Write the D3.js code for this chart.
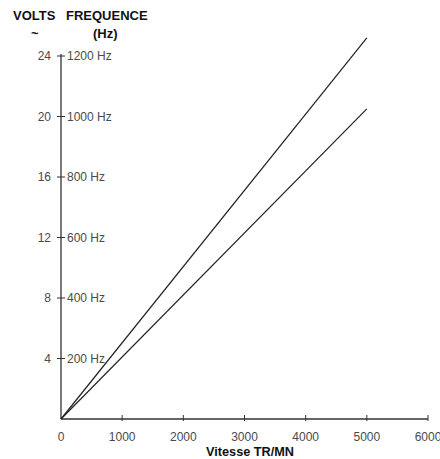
<!DOCTYPE html>
<html><head><meta charset="utf-8">
<script src="https://cdn.jsdelivr.net/npm/d3@7"></script>
<style>body{margin:0;background:#fff}text{font-family:"Liberation Sans",Arial,sans-serif}</style>
</head><body><svg id="c" width="440" height="459"></svg>
<script>
const xTicks = [0,1000,2000,3000,4000,5000,6000];
const voltTicks = [4,8,12,16,20,24];
const hzLabels = ["200 Hz","400 Hz","600 Hz","800 Hz","1000 Hz","1200 Hz"];
const speeds = [0,5000];
const seriesUpper = [0,25.2];
const seriesLower = [0,20.5];

const svg = d3.select("#c");
const x = d3.scaleLinear().domain([0,6000]).range([61,428]);
const y = d3.scaleLinear().domain([0,24]).range([419,56]);
const axisCol = "#333", txtCol = "#4a4a4a";

// x axis
svg.append("line").attr("x1",x(0)).attr("x2",x(6000)).attr("y1",y(0)).attr("y2",y(0)).attr("stroke",axisCol).attr("stroke-width",1.3);
xTicks.slice(1).forEach(t=>{
  svg.append("line").attr("x1",x(t)).attr("x2",x(t)).attr("y1",y(0)-4).attr("y2",y(0)+2).attr("stroke",axisCol).attr("stroke-width",1);
});
xTicks.forEach(t=>{
  svg.append("text").attr("x",x(t)).attr("y",y(0)+22).attr("text-anchor","middle").attr("font-size",12).attr("fill",txtCol).text(t);
});
// y axis
svg.append("line").attr("x1",x(0)).attr("x2",x(0)).attr("y1",y(0)).attr("y2",y(24)-2).attr("stroke",axisCol).attr("stroke-width",1.3);
voltTicks.forEach((t,i)=>{
  svg.append("line").attr("x1",x(0)-4).attr("x2",x(0)+4).attr("y1",y(t)).attr("y2",y(t)).attr("stroke",axisCol).attr("stroke-width",1);
  svg.append("text").attr("x",x(0)-10).attr("y",y(t)+4).attr("text-anchor","end").attr("font-size",12).attr("fill",txtCol).text(t);
  svg.append("text").attr("x",x(0)+6).attr("y",y(t)+4).attr("text-anchor","start").attr("font-size",12).attr("fill",txtCol).text(hzLabels[i]);
});
// lines
const line = d3.line().x(d=>x(d[0])).y(d=>y(d[1]));
[seriesUpper,seriesLower].forEach(s=>{
  svg.append("path").attr("d",line(speeds.map((v,i)=>[v,s[i]]))).attr("fill","none").attr("stroke","#222").attr("stroke-width",1.2);
});
// titles
const tb = (tx,ty,s,anchor)=>svg.append("text").attr("x",tx).attr("y",ty).attr("text-anchor",anchor||"start").attr("font-size",13).attr("font-weight","bold").attr("fill","#111").text(s);
tb(13,20,"VOLTS");
tb(66,20,"FREQUENCE");
tb(31,38,"~");
tb(93,38,"(Hz)");
svg.append("text").attr("x",250).attr("y",456).attr("text-anchor","middle").attr("font-size",12.7).attr("font-weight","bold").attr("fill","#111").text("Vitesse TR/MN");
</script></body></html>
